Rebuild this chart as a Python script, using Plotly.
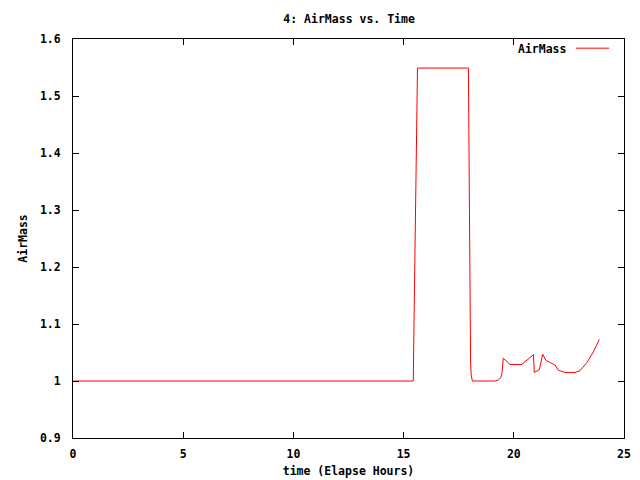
import plotly.graph_objects as go

# Elapsed hours and air mass values
time_hours = [0, 15.44, 15.46, 15.50, 15.55, 15.59, 15.63, 17.94, 17.96, 17.99,
              18.04, 18.07, 18.12, 19.15, 19.30, 19.41, 19.47, 19.52, 19.83, 20.36,
              20.89, 20.93, 21.16, 21.31, 21.46, 21.67, 21.87, 22.02, 22.32, 22.78,
              23.00, 23.31, 23.61, 23.88]
airmass = [1.0, 1.0, 1.068, 1.208, 1.344, 1.481, 1.549, 1.549, 1.42, 1.165,
           1.03, 1.01, 1.0, 1.0, 1.002, 1.006, 1.015, 1.04, 1.029, 1.029,
           1.046, 1.015, 1.02, 1.047, 1.036, 1.032, 1.028, 1.019, 1.015, 1.015,
           1.018, 1.032, 1.051, 1.073]

x_ticks = [0, 5, 10, 15, 20, 25]
y_ticks = [0.9, 1.0, 1.1, 1.2, 1.3, 1.4, 1.5, 1.6]
y_tick_text = ["0.9", "1", "1.1", "1.2", "1.3", "1.4", "1.5", "1.6"]

FONT = dict(family="DejaVu Sans Mono", size=11.5, color="black", weight="bold")

fig = go.Figure()
fig.add_trace(go.Scatter(x=time_hours, y=airmass, mode="lines", name="AirMass",
                         line=dict(color="#ff0000", width=1), showlegend=False))

axis_common = dict(showgrid=False, zeroline=False, showline=True, linecolor="black",
                   linewidth=1, mirror="allticks", ticks="inside", ticklen=6,
                   tickcolor="black", tickfont=FONT, automargin=False)

fig.update_xaxes(range=[0, 25], tickvals=x_ticks, ticklabelstandoff=5,
                 title=dict(text="time (Elapse Hours)", font=FONT, standoff=7),
                 **axis_common)
fig.update_yaxes(range=[0.9, 1.6], tickvals=y_ticks, ticktext=y_tick_text,
                 ticklabelstandoff=9,
                 title=dict(text="AirMass", font=FONT, standoff=9),
                 **axis_common)

# legend key drawn gnuplot-style: text then line sample
fig.add_annotation(x=0.898, y=0.975, xref="paper", yref="paper", text="AirMass",
                   showarrow=False, xanchor="right", yanchor="middle", font=FONT)
fig.add_shape(type="line", xref="paper", yref="paper", x0=0.913, x1=0.973,
              y0=0.977, y1=0.977, line=dict(color="#ff0000", width=1))

fig.update_layout(
    width=640, height=480,
    margin=dict(l=65, r=24, t=31, b=50, autoexpand=False),
    paper_bgcolor="white", plot_bgcolor="white",
    title=dict(text="4: AirMass vs. Time", font=FONT, x=0.533, xanchor="center",
               y=0.977, yanchor="middle"),
)

fig.write_html("out.html")
